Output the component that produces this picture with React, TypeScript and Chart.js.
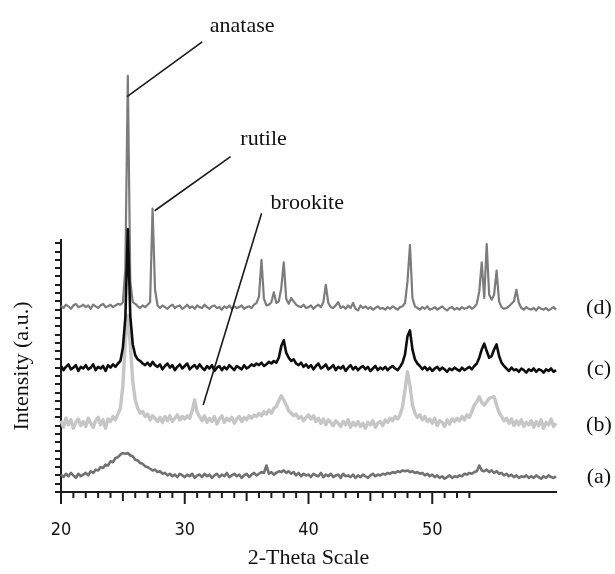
import React, { useEffect, useRef } from "react";
import { Chart, registerables } from "chart.js";

Chart.register(...registerables);

// 2-theta grid: first angle and step (degrees)
const X_START = 20;
const X_STEP = 0.2;
const X_MIN = 20;
const X_MAX = 60;
const X_TICK_LABELS = [20, 30, 40, 50];
const X_TICK_MARK_END = 53;

// Vertical offsets used to stack the patterns (a.u.)
const OFFSET_A = 20;
const OFFSET_B = 83;
const OFFSET_C = 150;
const OFFSET_D = 224;

const SERIES_NAMES = ["(a)", "(b)", "(c)", "(d)"];

// Intensities (a.u.), one value every 0.2 deg from 20.0 to 60.0
const seriesA = [
  1, -2, 2, -1, 3, 0, -3, 2, -1, 1,
  3, 0, 5, 3, 7, 6, 10, 9, 13, 12,
  17, 16, 21, 22, 25, 27, 26, 27, 24, 23,
  19, 18, 15, 14, 11, 10, 8, 6, 7, 4,
  5, 2, 3, 0, 2, -1, 1, -2, 2, 0,
  -2, 1, -1, 2, -3, 0, 1, -2, 2, -1,
  1, -3, 0, 2, -2, 1, -1, 3, -2, 0,
  2, -1, 1, -3, 0, 2, -2, 1, 3, 0,
  2, 4, 3, 12, 2, 4, 1, 3, 5, 4,
  6, 3, 5, 2, 4, 0, 3, -1, 2, 0,
  1, -2, 2, 0, -1, 3, -2, 1, -1, 2,
  -2, 0, 1, -3, 2, -1, 0, -2, 1, -3,
  0, -2, 1, -1, -3, 0, 2, -1, 1, 0,
  2, 1, 3, 2, 4, 3, 5, 4, 6, 5,
  6, 4, 5, 3, 4, 2, 3, 0, 2, -1,
  1, -2, 0, -3, -1, -4, -2, 0, -3, -1,
  -2, 0, -1, 2, 1, 3, 2, 4, 5, 12,
  6, 5, 7, 4, 6, 3, 5, 2, 3, 0,
  2, -1, 1, -2, 0, -3, -1, -2, 0, -3,
  -1, -3, 0, -2, -4, -1, -3, 0, -2, -3,
  -1,
];

const seriesB = [
  3, -5, 6, -2, 4, -6, 1, 5, -3, 2,
  -4, 6, 0, -5, 3, 7, -2, 4, -6, 5,
  2, 8, 4, 11, 18, 45, 100, 130, 95, 50,
  28, 18, 12, 14, 8, 11, 4, 9, 6, 2,
  7, 1, 8, 3, 9, 2, 6, 10, 4, 8,
  5, 9, 6, 15, 28, 13, 8, 3, 9, 1,
  6, 2, 8, -1, 5, 9, 1, 6, 3, 7,
  0, 5, 8, 2, 7, 4, 9, 6, 10, 8,
  12, 9, 14, 11, 16, 12, 18, 20, 27, 33,
  28, 22, 15, 12, 9, 11, 6, 8, 3, 7,
  10, 5, 9, 2, 6, 0, 5, -2, 4, 1,
  -3, 3, 0, -4, 2, -2, 4, -5, 1, -3,
  2, -4, 0, -6, 1, -2, 3, -5, 0, 2,
  -3, 4, 1, 6, 3, 8, 5, 10, 20, 40,
  62, 45, 22, 12, 7, 10, 4, 8, 2, 5,
  0, 6, -3, 3, 1, -4, 4, -1, 5, 2,
  6, 3, 8, 4, 10, 7, 14, 22, 26, 32,
  25, 22, 26, 30, 31, 32, 22, 13, 8, 3,
  6, 0, 5, -3, 3, -2, 4, -4, 1, -2,
  3, -5, 2, -3, 4, -6, 1, -2, 5, -4,
  0,
];

const seriesC = [
  2, -3, 1, 4, -2, 0, 3, -4, 1, -1,
  3, -2, 0, 4, -3, 1, -1, 2, -4, 3,
  0, 4, 1, 5, 8, 24, 60, 167, 62, 28,
  15, 10, 8, 5, 3, 6, 2, 7, 3, 1,
  4, -2, 2, 5, 0, 3, -3, 1, 4, -1,
  2, 5, -2, 1, 3, -1, 4, 0, -3, 2,
  -1, 3, -4, 0, 2, -3, 1, -2, 3, 0,
  -3, 2, 0, -2, 3, -1, 1, 4, 2, 5,
  3, 6, 2, 4, 7, 5, 8, 6, 12, 26,
  33, 18, 12, 8, 10, 5, 3, 6, 1, 4,
  0, 3, -2, 2, 5, -1, 1, 4, -2, 0,
  3, -3, 1, -1, 2, -4, 0, 3, -2, 1,
  -3, 0, 2, -2, 1, -4, -1, 2, -3, 0,
  -2, 1, -3, 0, 2, -1, -3, 1, 6, 16,
  38, 45, 22, 10, 5, 2, -2, 1, -3, 0,
  -4, -1, 1, -3, 0, -2, -5, -1, -3, 0,
  -2, -4, 0, -3, -1, 1, -2, 2, 5, 12,
  22, 29, 20, 12, 14, 22, 28, 14, 6, 2,
  -1, -4, 0, -3, -2, -5, -1, -3, -6, -2,
  -4, -1, -5, -2, -3, -6, -2, -4, -1, -5,
  -3,
];

const seriesD = [
  1, -2, 2, 0, -3, 1, 3, -1, 0, 2,
  -1, 1, -3, 2, 0, -2, 1, 3, -1, 0,
  2, -1, 1, 3, 2, 5, 45, 278, 30, 5,
  3, 0, -2, 1, -1, 2, 5, 118, 20, 1,
  -2, 1, -1, -3, 0, 2, -2, 0, 1, -3,
  -1, 2, -2, 0, -3, 1, -1, -2, 2, -1,
  -3, 0, 1, -2, -1, -4, 0, -2, 1, -3,
  0, -2, -1, 1, -3, -1, 0, -2, 2, 4,
  12, 56, 9, 1, 2, 5, 17, 4, 6, 22,
  53, 9, 3, 10, 6, 2, 0, -1, 2, -2,
  -1, 1, -3, 0, 2, -1, 5, 26, 4, -1,
  -2, 1, 5, -2, 0, -3, 1, -2, 4, -3,
  -5, 1, -2, 0, -3, -1, -4, -2, 0, -3,
  -2, -4, -1, -3, 0, -2, -4, -1, 0, 4,
  30, 74, 10, 0, -2, -4, -1, -3, 0, -4,
  -3, -1, -4, -2, 0, -3, -5, -2, -1, -4,
  -2, -4, -1, -3, -2, 0, -3, -1, 3, 18,
  53, 10, 75, 14, 8, 14, 43, 6, -1, -3,
  -2, 0, 3, 6, 20, 4, -2, -4, -1, -3,
  -4, -2, -5, -1, -3, -4, -2, -5, -3, -1,
  -4,
];

// Phase annotations: name, label anchor and leader line (data units)
const PHASE_NAMES = ["anatase", "rutile", "brookite"];
const PHASE_LABEL_AT = [
  [34.64, 562],
  [36.37, 426],
  [39.9, 348.6],
];
const PHASE_LINE_FROM = [
  [31.41, 543],
  [33.7, 404.5],
  [36.21, 336.2],
];
const PHASE_LINE_TO = [
  [25.34, 477],
  [27.57, 339.3],
  [31.49, 104.9],
];
const SERIES_LABEL_X = 63.47;

const toPoints = (vals: number[], offset: number) =>
  vals.map((v, i) => ({
    x: Math.round((X_START + i * X_STEP) * 10) / 10,
    y: v + offset,
  }));

const decorPlugin = {
  id: "decor",
  afterDraw(chart: any) {
    const { ctx } = chart;
    const xs = chart.scales.x;
    const ys = chart.scales.y;
    ctx.save();
    // x-axis tick marks (minor every degree, longer at 5 and 10)
    ctx.strokeStyle = "#1c1c1c";
    ctx.lineWidth = 2;
    const y0 = ys.getPixelForValue(0);
    for (let v = X_MIN; v <= X_TICK_MARK_END; v++) {
      const len = v % 10 === 0 ? 12 : v % 5 === 0 ? 9 : 6;
      const px = xs.getPixelForValue(v);
      ctx.beginPath();
      ctx.moveTo(px, y0);
      ctx.lineTo(px, y0 + len);
      ctx.stroke();
    }
    // phase leader lines
    ctx.strokeStyle = "#1a1a1a";
    ctx.lineWidth = 1.6;
    for (let i = 0; i < PHASE_NAMES.length; i++) {
      ctx.beginPath();
      ctx.moveTo(xs.getPixelForValue(PHASE_LINE_FROM[i][0]), ys.getPixelForValue(PHASE_LINE_FROM[i][1]));
      ctx.lineTo(xs.getPixelForValue(PHASE_LINE_TO[i][0]), ys.getPixelForValue(PHASE_LINE_TO[i][1]));
      ctx.stroke();
    }
    ctx.fillStyle = "#111";
    ctx.textAlign = "center";
    ctx.textBaseline = "middle";
    ctx.font = '22px "Liberation Serif", "Times New Roman", serif';
    for (let i = 0; i < PHASE_NAMES.length; i++) {
      ctx.fillText(
        PHASE_NAMES[i],
        xs.getPixelForValue(PHASE_LABEL_AT[i][0]),
        ys.getPixelForValue(PHASE_LABEL_AT[i][1])
      );
    }
    // series labels
    const offs = [OFFSET_A, OFFSET_B, OFFSET_C, OFFSET_D];
    for (let i = 0; i < SERIES_NAMES.length; i++) {
      ctx.fillText(SERIES_NAMES[i], xs.getPixelForValue(SERIES_LABEL_X), ys.getPixelForValue(offs[i]) + 2);
    }
    ctx.restore();
  },
};

export default function App() {
  const ref = useRef<HTMLCanvasElement | null>(null);
  useEffect(() => {
    if (!ref.current) return;
    const common = {
      pointRadius: 0,
      borderWidth: 2.4,
      tension: 0,
      fill: false,
      clip: false as any,
      borderJoinStyle: "round" as const,
    };
    const chart = new Chart(ref.current, {
      type: "line",
      data: {
        datasets: [
          { ...common, label: "(a)", data: toPoints(seriesA, OFFSET_A), borderColor: "#717171", borderWidth: 2.6, order: 3 },
          { ...common, label: "(b)", data: toPoints(seriesB, OFFSET_B), borderColor: "#c6c6c6", borderWidth: 3.4, order: 2 },
          { ...common, label: "(d)", data: toPoints(seriesD, OFFSET_D), borderColor: "#7c7c7c", borderWidth: 2.2, order: 1 },
          { ...common, label: "(c)", data: toPoints(seriesC, OFFSET_C), borderColor: "#0d0d0d", borderWidth: 2.6, order: 0 },
        ],
      },
      options: {
        responsive: false,
        animation: false,
        devicePixelRatio: 1,
        events: [],
        layout: { padding: { top: 240, right: 59, bottom: 0, left: 0 } },
        plugins: { legend: { display: false }, tooltip: { enabled: false } },
        scales: {
          x: {
            type: "linear",
            min: X_MIN,
            max: X_MAX,
            afterFit: (s: any) => {
              s.height = 82;
            },
            afterBuildTicks: (s: any) => {
              s.ticks = X_TICK_LABELS.map((v) => ({ value: v }));
            },
            grid: { display: false, drawTicks: false },
            border: { display: true, color: "#1c1c1c", width: 2 },
            ticks: {
              padding: 28,
              color: "#111",
              font: { family: '"DejaVu Sans Condensed", "DejaVu Sans", sans-serif', size: 18 },
              maxRotation: 0,
            },
            title: {
              display: true,
              text: "2-Theta Scale",
              color: "#111",
              font: { family: '"Liberation Serif", "Times New Roman", serif', size: 22 },
              padding: { top: 0, bottom: 3 },
            },
          },
          y: {
            type: "linear",
            min: 0,
            max: 304,
            afterFit: (s: any) => {
              s.width = 61;
            },
            grid: {
              display: true,
              drawOnChartArea: false,
              drawTicks: true,
              tickLength: 6,
              color: "#1c1c1c",
              lineWidth: 2,
            },
            border: { display: true, color: "#1c1c1c", width: 2 },
            ticks: { display: false, stepSize: 10, includeBounds: false },
            title: {
              display: true,
              text: "Intensity (a.u.)",
              color: "#111",
              font: { family: '"Liberation Serif", "Times New Roman", serif', size: 22 },
              padding: { top: 9, bottom: 0 },
            },
          },
        },
      },
      plugins: [decorPlugin],
    });
    return () => chart.destroy();
  }, []);
  return (
    <div style={{ position: "fixed", left: 0, top: 0, width: 615, height: 574, background: "#fff" }}>
      <canvas ref={ref} width={615} height={574} style={{ display: "block" }} />
    </div>
  );
}
